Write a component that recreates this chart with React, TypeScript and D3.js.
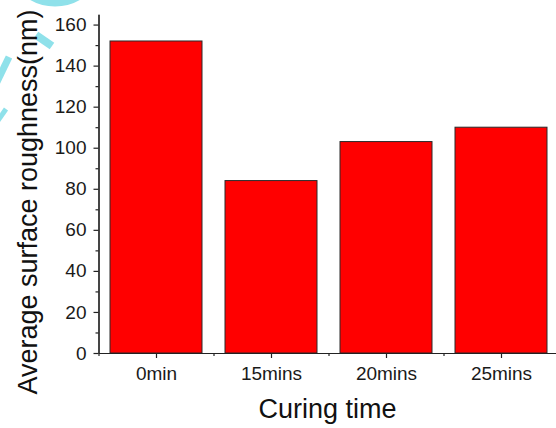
import React, { Component } from "react";
import * as d3 from "d3";

const categories = ["0min", "15mins", "20mins", "25mins"];
const roughness = [152, 84, 103, 110];
const yTicks = [0, 20, 40, 60, 80, 100, 120, 140, 160];
const yMinorTicks = [10, 30, 50, 70, 90, 110, 130, 150];

class App extends Component {
  svgRef = React.createRef<SVGSVGElement>();

  componentDidMount() {
    document.body.style.margin = "0";
    this.drawGraph();
  }

  drawGraph() {
    const width = 556;
    const height = 428;
    const font = "'Liberation Sans', Arial, sans-serif";
    var svg = d3.select(this.svgRef.current);
    svg.selectAll("*").remove();
    svg.attr("width", width).attr("height", height);

    // faint cyan watermark bits in the corner
    const wm = svg.append("g").attr("fill", "none").attr("stroke", "#8fe1ea");
    wm.append("circle").attr("cx", 55).attr("cy", -43).attr("r", 45).attr("stroke-width", 9);
    wm.append("line").attr("x1", 36).attr("y1", 35).attr("x2", 52).attr("y2", 46).attr("stroke-width", 8);
    wm.append("line").attr("x1", 9).attr("y1", 57).attr("x2", -6).attr("y2", 88).attr("stroke-width", 7);
    wm.append("line").attr("x1", 6).attr("y1", 109).attr("x2", -3).attr("y2", 122).attr("stroke-width", 5);

    var x = d3
      .scaleLinear()
      .domain([0.5, categories.length + 0.5])
      .range([98.5, 558.5]);

    var y = d3
      .scaleLinear()
      .domain([0, 165])
      .range([353, 14.3]);

    const step = x(2) - x(1);
    const barW = step * 0.8;

    // bars
    svg
      .append("g")
      .selectAll("rect")
      .data(roughness)
      .enter()
      .append("rect")
      .attr("x", (d, i) => x(i + 1) - barW / 2)
      .attr("y", d => y(d))
      .attr("width", barW)
      .attr("height", d => y(0) - y(d))
      .attr("fill", "#ff0000")
      .attr("stroke", "#2a2a2a")
      .attr("stroke-width", 1);

    // y axis
    const yAxis = d3
      .axisLeft(y)
      .tickValues(yTicks)
      .tickSize(5)
      .tickSizeOuter(0)
      .tickPadding(7);
    const yMinor = d3
      .axisLeft(y)
      .tickValues(yMinorTicks)
      .tickSize(3)
      .tickSizeOuter(0)
      .tickFormat(() => "");
    svg
      .append("g")
      .attr("class", "y axis")
      .attr("transform", "translate(98.5,0)")
      .call(yAxis);
    svg
      .append("g")
      .attr("class", "y minor")
      .attr("transform", "translate(98.5,0)")
      .call(yMinor);

    // x axis
    const xAxis = d3
      .axisBottom(x)
      .tickValues(categories.map((c, i) => i + 1))
      .tickFormat((d, i) => categories[i])
      .tickSize(5)
      .tickSizeOuter(0)
      .tickPadding(9);
    const xMinor = d3
      .axisBottom(x)
      .tickValues(categories.map((c, i) => i + 0.5))
      .tickSize(3)
      .tickSizeOuter(0)
      .tickFormat(() => "");
    svg
      .append("g")
      .attr("class", "x axis")
      .attr("transform", "translate(0,353)")
      .call(xAxis);
    svg
      .append("g")
      .attr("class", "x minor")
      .attr("transform", "translate(0,353)")
      .call(xMinor);

    svg.selectAll(".domain").attr("stroke", "#222").attr("stroke-width", 1.2);
    svg.selectAll(".tick line").attr("stroke", "#222").attr("stroke-width", 1.2);
    svg
      .selectAll(".tick text")
      .attr("fill", "#1a1a1a")
      .style("font-family", font)
      .style("font-size", "19px");

    // axis titles
    svg
      .append("text")
      .attr("x", 327.5)
      .attr("y", 418)
      .style("text-anchor", "middle")
      .style("font-family", font)
      .style("font-size", "27px")
      .attr("fill", "#111")
      .text("Curing time");
    svg
      .append("text")
      .attr("transform", "translate(37,202) rotate(-90)")
      .style("text-anchor", "middle")
      .style("font-family", font)
      .style("font-size", "27px")
      .attr("fill", "#111")
      .text("Average surface roughness(nm)");
  }

  render() {
    return <svg ref={this.svgRef} style={{ display: "block" }}></svg>;
  }
}

export default App;
